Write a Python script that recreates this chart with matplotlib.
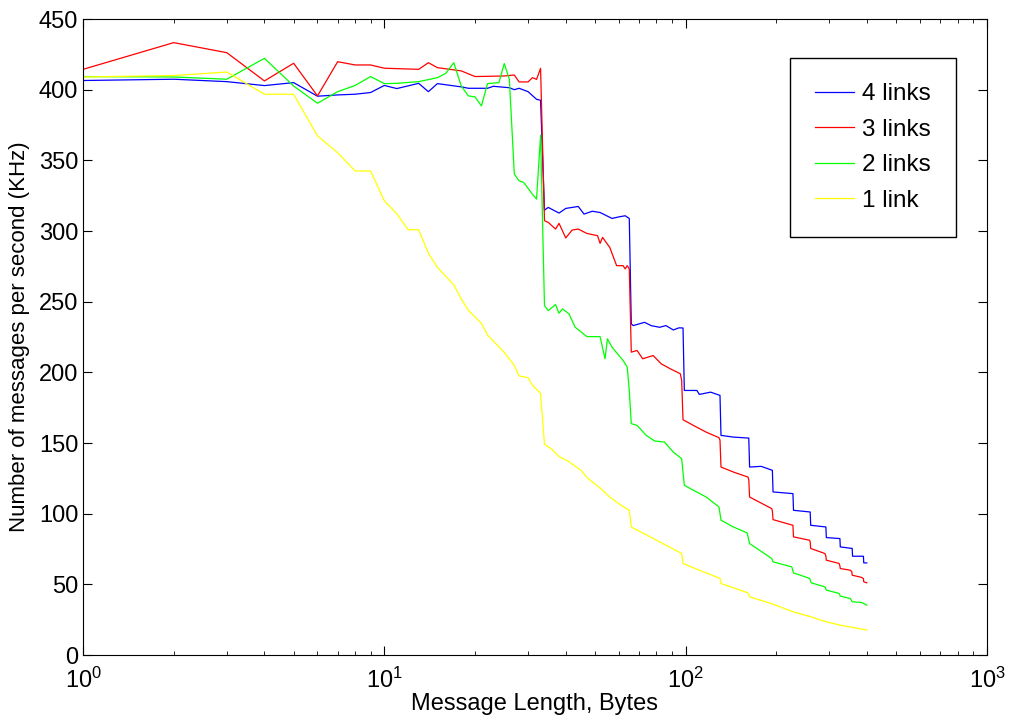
import matplotlib
matplotlib.use('Agg')
import matplotlib.pyplot as plt
import numpy as np

plt.rcParams['font.family'] = 'Liberation Sans'
plt.rcParams['mathtext.fontset'] = 'custom'
plt.rcParams['mathtext.rm'] = 'Liberation Sans'
plt.rcParams['mathtext.it'] = 'Liberation Sans:italic'

# (message length in bytes, rate in KHz)
links4 = [(1, 406.5), (2, 407.4), (3, 405.7), (4, 402.9), (5, 405), (6, 395.4), (7, 396.3),
          (8, 396.8), (9, 398), (10, 403), (11, 400.8), (13, 404.5), (14, 398.6), (15, 404.3),
          (18, 402), (19, 401), (22, 401), (23, 402.4), (26, 401.4), (27, 400), (28, 401),
          (30, 398.6), (32, 393.2), (33, 392.5), (34, 314.8), (35, 316.7), (38, 312.7),
          (40, 316), (42, 316.7), (44, 317.4), (46, 312), (49, 314), (52, 313.1), (57, 308.9),
          (60, 310), (63, 310.8), (65, 308.9), (66, 234.3), (67, 233.1), (73, 235.4),
          (77, 233), (82, 231.9), (86, 233.1), (91, 230), (95, 231.5), (98, 231.4),
          (99, 187.2), (109, 187.2), (111, 184.4), (121, 186), (130, 183.7), (131, 155.4),
          (144, 154.2), (162, 153.5), (163, 133), (178, 133.5), (194, 130.7), (195, 115.4),
          (227, 114.2), (228, 102.4), (259, 101.2), (260, 91.8), (292, 90.6), (293, 83.1),
          (325, 82.4), (326, 76.5), (357, 75.4), (358, 69.9), (389, 69.9), (390, 65.2),
          (399, 65.2)]

links3 = [(1, 414.4), (2, 433.3), (3, 426.2), (4, 406.2), (5, 418.7), (6, 395.6), (7, 419.8),
          (8, 417.5), (9, 417.5), (10, 415.2), (13, 414.4), (14, 419.1), (15, 415.6),
          (18, 413.3), (20, 409.3), (25, 409.7), (27, 410.4), (28, 405.5), (30, 405.5),
          (31, 408.5), (32, 407.3), (33, 415.1), (34, 307.3), (35, 306.1), (37, 301.4),
          (38, 305.4), (40, 295.1), (42, 300.7), (44, 301.4), (47, 298.3), (51, 296.7),
          (52, 291.3), (53, 295.5), (56, 288.4), (59, 275.5), (62, 275.5), (63, 273.2),
          (64, 275.5), (65, 273.2), (66, 214.3), (69, 215.5), (72, 209.6), (78, 211.9),
          (83, 206), (89, 202.5), (96, 199), (97, 194.3), (98, 166.5), (106, 162.5),
          (117, 157.7), (129, 153.8), (130, 152), (131, 133), (144, 129.5), (161, 125.9),
          (162, 124), (163, 111.8), (193, 103.6), (194, 102), (195, 95.8), (227, 91.8),
          (228, 83.6), (258, 81.2), (259, 80), (260, 75.4), (290, 71.8), (292, 70),
          (293, 67.1), (323, 64.8), (325, 63), (326, 61.2), (352, 60), (356, 59),
          (357, 56.5), (384, 54.9), (389, 54), (390, 51.8), (399, 51.1)]

links2 = [(1, 409.3), (2, 409), (3, 407.4), (4, 422.2), (5, 402.6), (6, 390.4), (7, 398.6),
          (8, 403), (9, 409.3), (10, 404.3), (11, 404.5), (13, 405.7), (15, 408.5),
          (16, 411.6), (17, 419.1), (18, 402.6), (19, 395.6), (20, 394.9), (21, 388.5),
          (22, 404.3), (24, 405), (25, 418.5), (26, 407.3), (27, 340.3), (28, 335.5),
          (29, 334.4), (31, 326.1), (32, 322.6), (33, 367.8), (34, 247.2), (35, 243.7),
          (37, 248), (38, 241.8), (39, 244.9), (41, 241.4), (43, 231.9), (47, 225.3),
          (52, 225.3), (54, 209.6), (55, 223.7), (57, 217.8), (62, 208.4), (64, 203.7),
          (65, 187.2), (66, 163.7), (69, 162.5), (74, 155.4), (79, 151.4), (85, 150.7),
          (91, 143.6), (97, 138.9), (99, 120.1), (106, 116.6), (117, 111.8), (129, 104.8),
          (131, 95.4), (144, 90.6), (160, 86.4), (163, 78.9), (193, 68.3), (195, 65.9),
          (225, 62.4), (228, 58.1), (258, 54.2), (261, 51.1), (290, 48.2), (293, 45.9),
          (323, 43.6), (326, 41.7), (352, 40), (357, 37.7), (384, 37.2), (399, 35.3)]

links1 = [(1, 409), (2, 410), (3, 412.5), (4, 396.8), (5, 396.8), (6, 367.3), (7, 355.4),
          (8, 342.5), (9, 342.5), (10, 321.4), (11, 312.2), (12, 300.9), (13, 300.9),
          (14, 284.3), (15, 274.3), (17, 261.9), (18, 252), (19, 243.9), (21, 234.7),
          (22, 226.5), (25, 214.1), (27, 204.9), (28, 197.5), (30, 196.2), (31, 191),
          (33, 185.1), (34, 149.1), (36, 145.5), (38, 140.5), (41, 136.8), (45, 130.6),
          (47, 125.6), (52, 118.2), (56, 111.8), (61, 106), (65, 102.4), (66, 90.6),
          (72, 86.4), (86, 77.7), (97, 71.8), (98, 64.8), (111, 60), (130, 54.2),
          (131, 50.6), (161, 44), (163, 41.2), (195, 36), (227, 30.6), (260, 27.1),
          (293, 23.5), (325, 21.2), (358, 19.5), (399, 17.7)]

series = [(links4, 'blue', '4 links'), (links3, 'red', '3 links'),
          (links2, '#00ff00', '2 links'), (links1, 'yellow', '1 link')]

fig = plt.figure(figsize=(10.1, 7.18), dpi=100)
ax = fig.add_axes([0.0822, 0.0877, 0.895, 0.8858])

for data, color, label in series:
    x, y = np.array(data).T
    ax.semilogx(x, y, color=color, lw=0.9, label=label)

ax.set_xlim(1, 1000)
ax.set_ylim(0, 450)
ax.set_yticks(range(0, 451, 50))
ax.tick_params(which='both', direction='in', top=True, right=True, labelsize=17)
ax.tick_params(which='major', length=6.5)
ax.tick_params(which='minor', length=3)
ax.tick_params(axis='x', pad=9)
ax.set_xlabel('Message Length, Bytes', fontsize=17, labelpad=0)
ax.set_ylabel('Number of messages per second (KHz)', fontsize=16, labelpad=6)

leg = ax.legend(loc='upper left', bbox_to_anchor=(0.782, 0.939), borderaxespad=0,
                fontsize=17.5, fancybox=False, edgecolor='black', framealpha=1,
                borderpad=1.05, labelspacing=0.55, handlelength=1.6, handletextpad=0.3)
leg.get_frame().set_linewidth(1.0)

fig.savefig('out.png', dpi=100)
